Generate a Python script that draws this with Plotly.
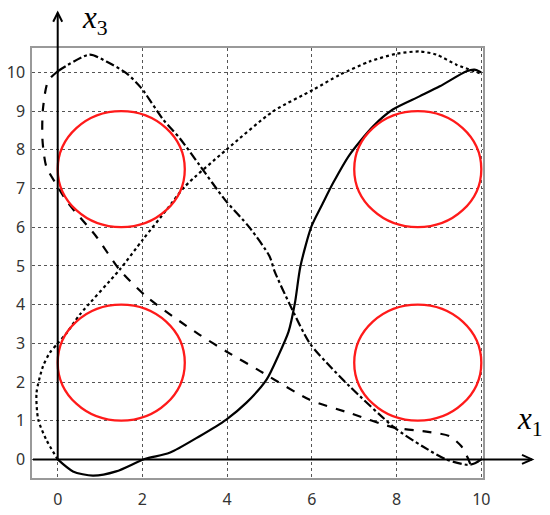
import plotly.graph_objects as go

# ---- data ----
solid_x = [0, 0.36, 0.83, 1.38, 2.05, 2.64, 3.35, 3.98, 4.45, 4.93, 5.2, 5.45, 5.6, 5.73, 5.99, 6.25, 6.5, 6.89, 7.44, 7.91, 8.54, 9.02, 9.65, 9.84, 10.0]
solid_y = [0, -0.31, -0.42, -0.31, 0.01, 0.17, 0.6, 1.03, 1.46, 2.06, 2.66, 3.3, 4.04, 4.99, 6.02, 6.6, 7.14, 7.87, 8.6, 9.04, 9.38, 9.64, 10.03, 10.07, 10.0]

dashed_x = [0, -0.23, -0.35, -0.36, -0.27, 0, 0.24, 0.91, 1.46, 2.09, 2.88, 3.35, 3.98, 4.72, 5.95, 6.89, 7.95, 8.7, 9.25, 9.53, 9.68, 9.76, 9.88, 10.0]
dashed_y = [10.03, 9.77, 9.04, 8.26, 7.57, 7.05, 6.63, 5.76, 4.9, 4.21, 3.57, 3.22, 2.79, 2.32, 1.54, 1.2, 0.82, 0.72, 0.6, 0.34, 0.04, -0.14, -0.08, 0.0]

dashdot_x = [0, 0.755, 1.15, 1.62, 1.97, 2.49, 2.88, 3.35, 3.94, 4.53, 5.0, 5.12, 5.48, 5.95, 6.46, 6.89, 7.95, 8.61, 9.17, 9.68, 9.85, 10.0]
dashdot_y = [10.03, 10.46, 10.28, 9.98, 9.6, 8.78, 8.3, 7.6, 6.72, 5.99, 5.25, 4.86, 4.0, 3.0, 2.37, 1.89, 0.82, 0.34, 0.0, -0.14, -0.1, 0.0]

dotted_x = [0, -0.27, -0.46, -0.5, -0.35, -0.19, 0.0, 0.2, 0.52, 1.46, 2.01, 2.57, 3.0, 3.98, 5.08, 6.03, 6.66, 7.36, 7.99, 8.54, 8.94, 9.41, 9.96]
dotted_y = [0, 0.51, 1.03, 1.72, 2.4, 2.75, 3.0, 3.25, 3.74, 4.9, 5.68, 6.45, 7.05, 8.0, 8.99, 9.55, 9.94, 10.28, 10.48, 10.54, 10.46, 10.2, 9.98]

circle_cx = [1.5, 1.5, 8.5, 8.5]
circle_cy = [2.5, 7.5, 2.5, 7.5]
circle_r = [1.5, 1.5, 1.5, 1.5]

x_ticks = [0, 2, 4, 6, 8, 10]
y_ticks = list(range(0, 11))

x_range = [-0.607, 10.04]
y_range = [-0.48, 10.63]

# ---- figure ----
W, H = 550, 515
ML, MT = 32, 48
PW, PH = 451, 430
MR, MB = W - ML - PW, H - MT - PH

fig = go.Figure()
line_w = 2.2
for xs, ys, dash in [(solid_x, solid_y, "solid"), (dashed_x, dashed_y, "dash"),
                     (dashdot_x, dashdot_y, "dashdot"), (dotted_x, dotted_y, "dot")]:
    fig.add_trace(go.Scatter(x=xs, y=ys, mode="lines",
                             line=dict(color="black", width=line_w, dash=dash,
                                       shape="spline", smoothing=0.7),
                             showlegend=False, hoverinfo="skip"))

for cx, cy, r in zip(circle_cx, circle_cy, circle_r):
    fig.add_shape(type="circle", xref="x", yref="y", x0=cx - r, x1=cx + r, y0=cy - r, y1=cy + r,
                  line=dict(color="#ff1a1a", width=2.3))


def xp(v):
    return (v - x_range[0]) / (x_range[1] - x_range[0])


def yp(v):
    return (v - y_range[0]) / (y_range[1] - y_range[0])


def px_x(p):  # page pixel -> paper
    return (p - ML) / PW


def px_y(p):
    return (H - MB - p) / PH


# horizontal axis arrow
y0p = yp(0)
tip_x = px_x(532)
fig.add_shape(type="line", xref="paper", yref="paper", x0=px_x(33), x1=tip_x, y0=y0p, y1=y0p,
              line=dict(color="black", width=2))
dx, dy = 10 / PW, 4.5 / PH
fig.add_shape(type="path", xref="paper", yref="paper",
              path=f"M {tip_x - dx} {y0p + dy} L {tip_x} {y0p} L {tip_x - dx} {y0p - dy}",
              line=dict(color="black", width=2))
# vertical axis arrow
x0p = xp(0)
tip_y = px_y(12.7)
fig.add_shape(type="line", xref="paper", yref="paper", x0=x0p, x1=x0p, y0=y0p, y1=tip_y,
              line=dict(color="black", width=2))
dx2, dy2 = 4.5 / PW, 9 / PH
fig.add_shape(type="path", xref="paper", yref="paper",
              path=f"M {x0p - dx2} {tip_y - dy2} L {x0p} {tip_y} L {x0p + dx2} {tip_y - dy2}",
              line=dict(color="black", width=2))

label_font = dict(family="Liberation Serif, DejaVu Serif, serif", size=31, color="black")
fig.add_annotation(xref="paper", yref="paper", x=px_x(80), y=px_y(20), xanchor="left", yanchor="middle",
                   text="<i>x</i><sub>3</sub>", showarrow=False, font=label_font)
fig.add_annotation(xref="paper", yref="paper", x=px_x(515), y=px_y(421), xanchor="left", yanchor="middle",
                   text="<i>x</i><sub>1</sub>", showarrow=False, font=label_font)

tick_font = dict(family="Noto Sans", size=16, color="#333333")
grid = dict(showgrid=True, gridcolor="#555555", gridwidth=1, griddash="dot",
            showline=True, mirror=True, linecolor="#999999", linewidth=1.5,
            zeroline=False, tickfont=tick_font, ticks="outside", tickcolor="rgba(0,0,0,0)",
            automargin=False)
fig.update_xaxes(range=x_range, tickvals=x_ticks, ticklen=6, **grid)
fig.update_yaxes(range=y_range, tickvals=y_ticks, ticklen=2, **grid)

fig.update_layout(width=W, height=H, margin=dict(l=ML, r=MR, t=MT, b=MB),
                  plot_bgcolor="white", paper_bgcolor="white", showlegend=False)

fig.write_html("out.html", config={"displayModeBar": False},
               post_script="document.body.style.margin='0';")
